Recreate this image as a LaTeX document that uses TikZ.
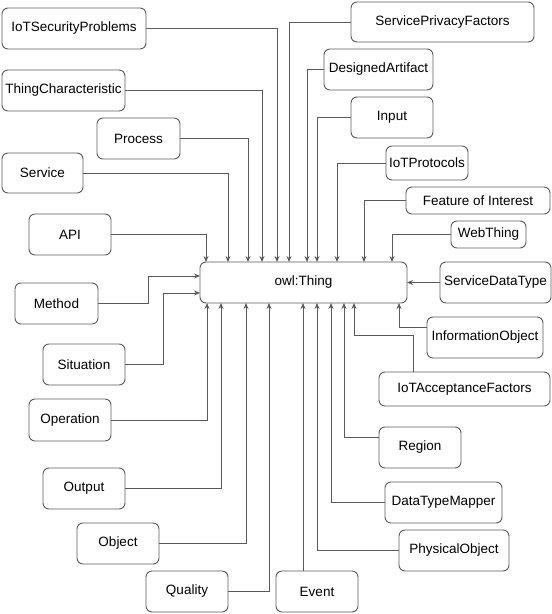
\documentclass[tikz,border=0pt]{standalone}
\usepackage{fontspec}
\setmainfont{Liberation Sans}
\usetikzlibrary{arrows.meta,calc}
\definecolor{linec}{RGB}{90,90,90}
\begin{document}
\begin{tikzpicture}[x=1pt,y=-1pt,
  box/.style={draw=linec, line width=0.9pt, rounded corners=6pt, inner sep=0pt, outer sep=0pt,
    font=\fontsize{13.5}{16}\selectfont, text=black, minimum height=41pt},
  arr/.style={draw=linec, line width=0.9pt, -{Stealth[length=6pt,width=5pt]}}]
\useasboundingbox (0,0) rectangle (552,614);
% boxes
\node[box, minimum width=144pt] (isp) at (74,28.5) {IoTSecurityProblems};
\node[box, minimum width=123pt] (tc) at (63.5,90.5) {ThingCharacteristic};
\node[box, minimum width=83pt] (proc) at (138.5,138.5) {Process};
\node[box, minimum width=81pt, minimum height=40pt] (serv) at (42.5,173) {Service};
\node[box, minimum width=82pt] (api) at (70,234.5) {API};
\node[box, minimum width=83pt] (meth) at (56.5,303.5) {Method};
\node[box, minimum width=82pt] (sit) at (84,364.5) {Situation};
\node[box, minimum width=82pt, minimum height=42pt] (op) at (70,420) {Operation};
\node[box, minimum width=82pt] (out) at (84,488.5) {Output};
\node[box, minimum width=82pt] (obj) at (118,543.5) {Object};
\node[box, minimum width=82pt] (qual) at (187,591.5) {Quality};
\node[box, minimum width=82pt] (ev) at (317,591.5) {Event};
\node[box, minimum width=110pt] (po) at (454,550.5) {PhysicalObject};
\node[box, minimum width=117pt] (dtm) at (443.5,502.5) {DataTypeMapper};
\node[box, minimum width=82pt] (reg) at (420,447.5) {Region};
\node[box, minimum width=171pt, minimum height=34pt] (iaf) at (464.5,389) {IoTAcceptanceFactors};
\node[box, minimum width=116pt] (io) at (485,337.5) {InformationObject};
\node[box, minimum width=111pt] (sdt) at (495.5,282.5) {ServiceDataType};
\node[box, minimum width=75pt, minimum height=27pt] (wt) at (488.5,234.5) {WebThing};
\node[box, minimum width=144pt, minimum height=27pt] (foi) at (478,200.5) {Feature of Interest};
\node[box, minimum width=82pt, minimum height=34pt] (iotp) at (427,163) {IoTProtocols};
\node[box, minimum width=82pt] (inp) at (392,117.5) {Input};
\node[box, minimum width=109pt] (da) at (378.5,69.5) {DesignedArtifact};
\node[box, minimum width=183pt, minimum height=40pt] (spf) at (442.5,22) {ServicePrivacyFactors};
\node[box, minimum width=207pt] (owl) at (303.5,282.5) {owl:Thing};
% top connectors
\draw[arr] (api.east) -| ($(owl.north west)+(6,0)$);
\draw[arr] (serv.east) -| ($(owl.north west)+(28,0)$);
\draw[arr] (proc.east) -| ($(owl.north west)+(48,0)$);
\draw[arr] (tc.east) -| ($(owl.north west)+(62,0)$);
\draw[arr] (isp.east) -| ($(owl.north west)+(77,0)$);
\draw[arr] (spf.west) -| ($(owl.north west)+(89,0)$);
\draw[arr] (da.west) -| ($(owl.north west)+(107,0)$);
\draw[arr] (inp.west) -| ($(owl.north west)+(117,0)$);
\draw[arr] (iotp.west) -| ($(owl.north west)+(137,0)$);
\draw[arr] (foi.west) -| ($(owl.north west)+(164,0)$);
\draw[arr] (wt.west) -| ($(owl.north west)+(192,0)$);
% left connectors
\draw[arr] (meth.east) -- ($(meth.east)+(50,0)$) |- ($(owl.north west)+(0,14)$);
\draw[arr] (sit.east) -- ($(sit.east)+(38,0)$) |- ($(owl.north west)+(0,31)$);
% right connector
\draw[arr] (sdt.west) -- (owl.east);
% bottom connectors
\draw[arr] (op.east) -| ($(owl.south west)+(7,0)$);
\draw[arr] (out.east) -| ($(owl.south west)+(21,0)$);
\draw[arr] (obj.east) -| ($(owl.south west)+(46,0)$);
\draw[arr] (qual.east) -| ($(owl.south west)+(69,0)$);
\draw[arr] ($(ev.north west)+(27,0)$) -- ($(owl.south west)+(103,0)$);
\draw[arr] (po.west) -| ($(owl.south west)+(117,0)$);
\draw[arr] (dtm.west) -| ($(owl.south west)+(131,0)$);
\draw[arr] ($(reg.west)+(0,-10.5)$) -| ($(owl.south west)+(144,0)$);
\draw[arr] ($(iaf.north west)+(34,0)$) -- ($(iaf.north west)+(34,-37)$) -| ($(owl.south west)+(154,0)$);
\draw[arr] ($(io.west)+(0,-10.5)$) -| ($(owl.south west)+(199,0)$);
\end{tikzpicture}
\end{document}
